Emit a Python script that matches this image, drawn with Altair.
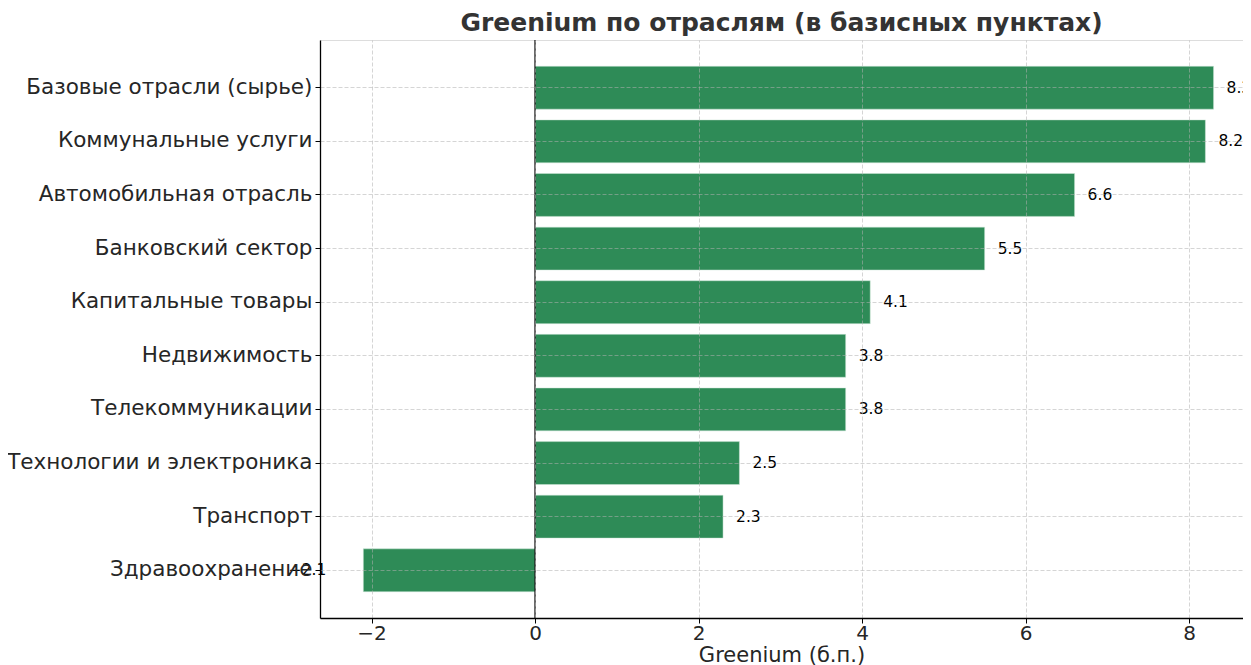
import altair as alt
import pandas as pd

categories = [
    "Базовые отрасли (сырье)",
    "Коммунальные услуги",
    "Автомобильная отрасль",
    "Банковский сектор",
    "Капитальные товары",
    "Недвижимость",
    "Телекоммуникации",
    "Технологии и электроника",
    "Транспорт",
    "Здравоохранение",
]
values = [8.3, 8.2, 6.6, 5.5, 4.1, 3.8, 3.8, 2.5, 2.3, -2.1]
x_ticks = [-2, 0, 2, 4, 6, 8]

df = pd.DataFrame({"sector": categories, "value": values})

FONT = "DejaVu Sans"
TXT = "#262626"
BAR = "#2e8b57"

x_enc = alt.X(
    "value:Q",
    scale=alt.Scale(domain=[-2.63, 8.66], nice=False, zero=False),
    axis=alt.Axis(
        values=x_ticks,
        format="d",
        title="Greenium (б.п.)",
        titleFont=FONT,
        titleFontSize=21,
        titleFontWeight="normal",
        titleColor=TXT,
        titlePadding=1,
        labelFont=FONT,
        labelFontSize=20,
        labelColor=TXT,
        labelPadding=0,
        tickSize=5,
        tickColor="black",
        domainColor="black",
        domainWidth=1.3,
        grid=True,
        gridColor="#b0b0b0",
        gridOpacity=0.6,
        gridDash=[4, 2],
        gridWidth=0.9,
        zindex=1,
    ),
)

y_enc = alt.Y(
    "sector:N",
    sort=categories,
    scale=alt.Scale(paddingInner=0.2, paddingOuter=0.49),
    axis=alt.Axis(
        title=None,
        bandPosition=0.5,
        labelFont=FONT,
        labelFontSize=21.5,
        labelColor=TXT,
        labelPadding=3,
        labelLimit=400,
        tickSize=5,
        tickColor="black",
        domainColor="black",
        domainWidth=1.3,
        grid=True,
        gridColor="#b0b0b0",
        gridOpacity=0.6,
        gridDash=[4, 2],
        gridWidth=0.9,
        zindex=1,
    ),
)

base = alt.Chart(df)

bars = base.mark_bar(color=BAR, stroke="#cfe6d8", strokeWidth=0.5).encode(x=x_enc, y=y_enc)

zero_line = alt.Chart(pd.DataFrame({"z": [0]})).mark_rule(color="black", strokeWidth=1.2).encode(
    x=alt.X("z:Q")
)

pos_labels = base.transform_filter("datum.value >= 0").mark_text(
    align="left", baseline="middle", dx=13, font=FONT, fontSize=15.5, color="black"
).encode(x="value:Q", y=alt.Y("sector:N", sort=categories), text=alt.Text("value:Q", format=".1f"))

neg_labels = base.transform_filter("datum.value < 0").mark_text(
    align="right", baseline="middle", dx=-37, font=FONT, fontSize=15.5, color="black"
).encode(x="value:Q", y=alt.Y("sector:N", sort=categories), text=alt.Text("value:Q", format=".1f"))

chart = (
    alt.layer(bars, zero_line, pos_labels, neg_labels)
    .properties(
        width=923,
        height=578,
        title=alt.TitleParams(
            "Greenium по отраслям (в базисных пунктах)",
            font=FONT,
            fontSize=25,
            fontWeight="bold",
            color="#333333",
            anchor="middle",
            offset=3,
        ),
        autosize=alt.AutoSizeParams(type="none"),
        padding={"left": 312, "top": 32, "right": 0, "bottom": 56},
    )
    .configure_view(stroke=None)
    .configure(background="white")
)

chart.save("out.html", embed_options={"renderer": "svg", "actions": False})
